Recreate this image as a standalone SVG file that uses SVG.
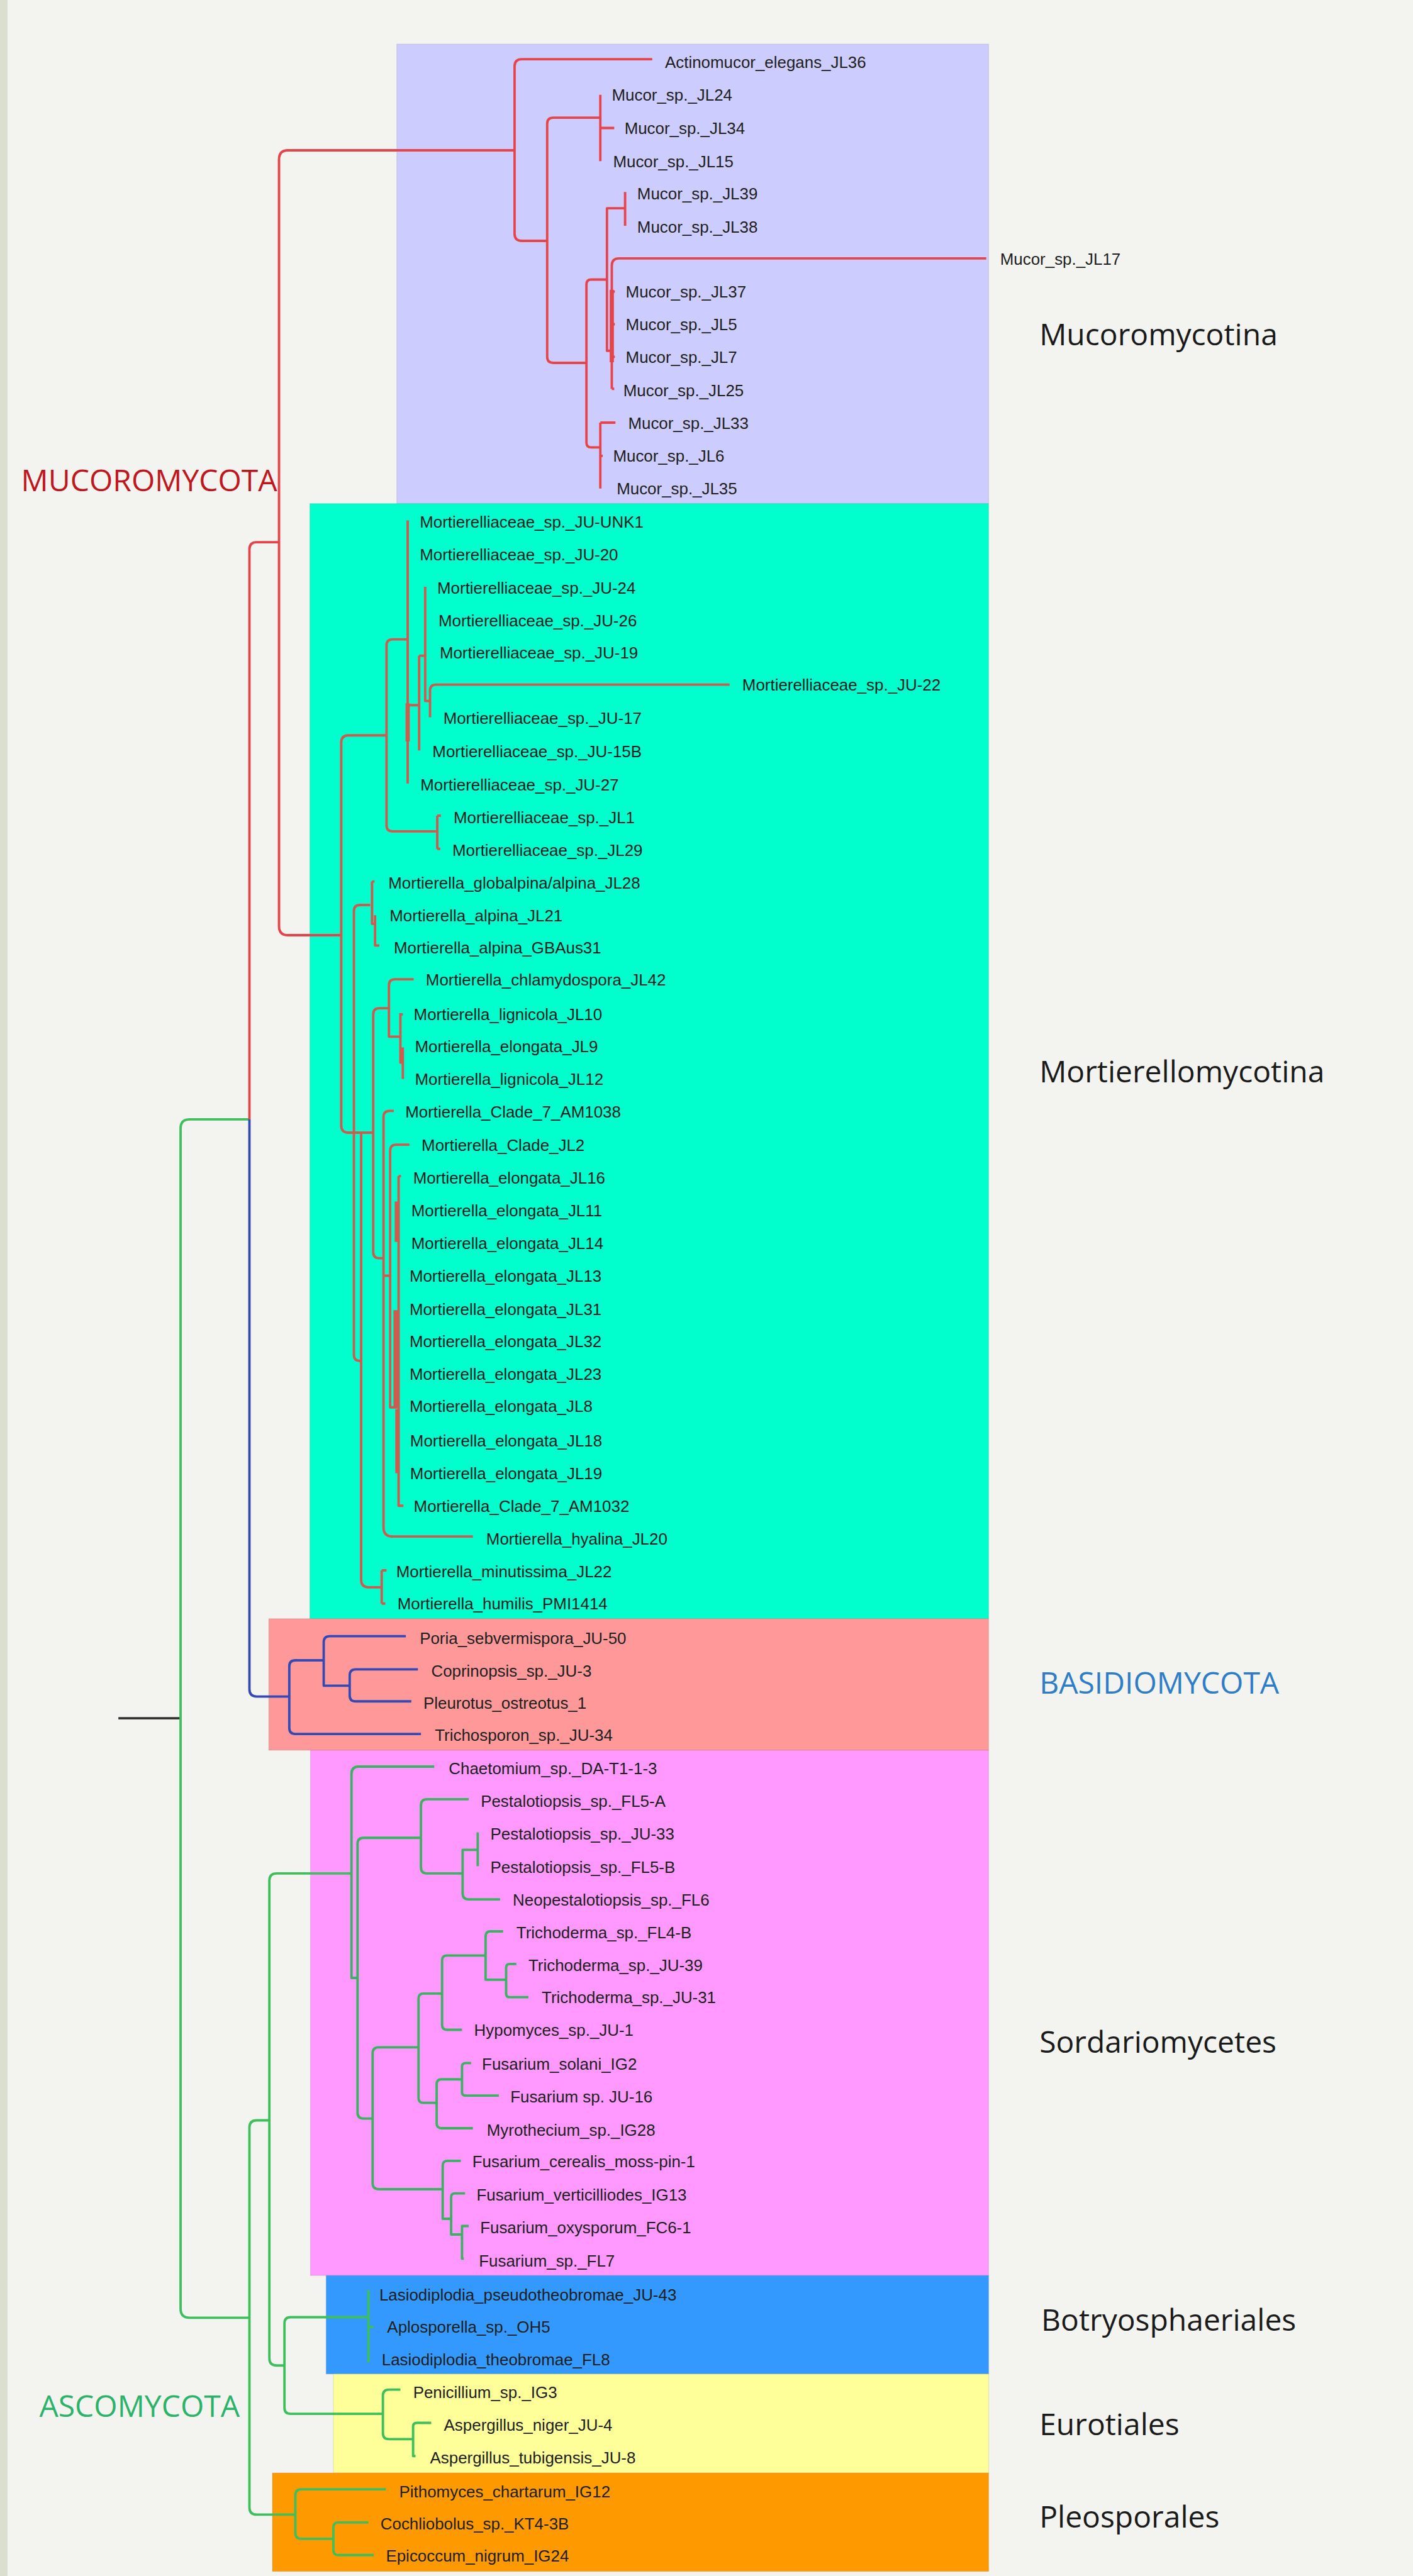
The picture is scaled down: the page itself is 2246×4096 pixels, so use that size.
<svg xmlns="http://www.w3.org/2000/svg" width="2246" height="4096" viewBox="0 0 2246 4096">
<style>
.leaf{font-family:"Liberation Sans",Arial,sans-serif;font-size:27px;fill:#1e1e1e}
.clade{font-family:"Open Sans","DejaVu Sans",sans-serif;font-size:50px;fill:#1a1a1a}
.box{stroke:#000;stroke-opacity:0.08;stroke-width:1.5}
path{fill:none;stroke-width:4;stroke-linejoin:round}
.r{stroke:#E5454A}.m{stroke:#CF5A4E}.b{stroke:#3549B5}.g{stroke:#3FBF5C}.s{stroke:#3DB062}.k{stroke:#333}
.thick{stroke-width:7}
</style>
<rect x="0" y="0" width="2246" height="4096" fill="#F3F4EF"/>
<rect x="0" y="0" width="12" height="4096" fill="#DADFD0"/>
<g transform="scale(0.96)">
<g id="boxes">
<rect id="box-mucoromycotina" class="box" x="657" y="73" width="980" height="761" fill="#CCCCFF"/>
<rect id="box-mortierellomycotina" class="box" x="513" y="834" width="1124" height="1847" fill="#00FFCC"/>
<rect id="box-basidiomycota" class="box" x="445" y="2681" width="1192" height="218" fill="#FF9999"/>
<rect id="box-sordariomycetes" class="box" x="514" y="2899" width="1123" height="870" fill="#FF99FF"/>
<rect id="box-botryosphaeriales" class="box" x="540" y="3769" width="1097" height="163" fill="#3399FF"/>
<rect id="box-eurotiales" class="box" x="552" y="3932" width="1085" height="164" fill="#FFFF99"/>
<rect id="box-pleosporales" class="box" x="451" y="4096" width="1186" height="163" fill="#FF9900"/>
</g>
<g id="connectors">
<path class="k" d="M196 2846 H299"/>
<path class="g" d="M413 1854 H314 Q299 1854 299 1869 V3824 Q299 3839 314 3839 H413"/>
<path class="r" d="M462 898 H425 Q413 898 413 910 V1854"/>
<path class="b" d="M413 1854 V2798 Q413 2810 425 2810 H479"/>
<path class="r" d="M852 249 H477 Q462 249 462 264 V1534 Q462 1549 477 1549 H565"/>
<path class="r" d="M1080 98 H864 Q852 98 852 110 V387 Q852 399 864 399 H906"/>
<path class="r" d="M994 195 H916 Q906 195 906 205 V591 Q906 601 916 601 H971"/>
<path class="r" d="M994 157 V267 M994 212 H1017"/>
<path class="r" d="M1005 463 H979 Q971 463 971 471 V733 Q971 741 979 741 H994"/>
<path class="r" d="M1035 345 H1005 V581 H1013"/>
<path class="r" d="M1035 318 V374"/>
<path class="r" d="M1013 644 V440 Q1013 428 1025 428 H1633 M1013 483 H1018 M1013 537 H1018 M1013 591 H1018 M1013 644 H1017"/>
<path class="r thick" d="M1013 480 V600"/>
<path class="r" d="M994 700 V809 M994 700 H1019 M994 755 H998"/>
<path class="m" d="M640 1218 H577 Q565 1218 565 1230 V1864 Q565 1876 577 1876 H618"/>
<path class="m" d="M675 1059 H650 Q640 1059 640 1069 V1367 Q640 1377 650 1377 H724"/>
<path class="m" d="M675 862 V1298 M675 1168 H694 M694 1086 V1243 M694 1086 H704 M704 972 V1161 H712 M712 1188 V1144 Q712 1134 722 1134 H1208"/>
<path class="m thick" d="M675 1165 V1228"/>
<path class="m" d="M724 1351 V1406 M724 1351 H730 M724 1406 H729"/>
<path class="m" d="M613 1499 H596 Q586 1499 586 1509 V2244 Q586 2254 596 2254 H598"/>
<path class="m" d="M616 1460 V1530 H621 M621 1516 V1566 H628 M616 1460 H620"/>
<path class="m" d="M598 1876 V2617 Q598 2629 610 2629 H632"/>
<path class="m" d="M632 2601 V2656 M632 2601 H640 M632 2656 H638"/>
<path class="m" d="M644 1670 H628 Q618 1670 618 1680 V2074 Q618 2084 628 2084 H635"/>
<path class="m" d="M685 1622 H654 Q644 1622 644 1632 V1717 H663"/>
<path class="m" d="M663 1678 V1760 H667 M667 1735 V1787 M663 1680 H667"/>
<path class="m" d="M652 1840 H645 Q635 1840 635 1850 V2530 Q635 2545 650 2545 H783 M635 2113 H646"/>
<path class="m" d="M678 1896 H656 Q646 1896 646 1906 V2331 H658"/>
<path class="m" d="M660 1948 V2494 H668 M660 1948 H664"/>
<path class="m thick" d="M657 1990 V2057 M655 2170 V2330 M658 2334 V2440"/>
<path class="b" d="M536 2750 H489 Q479 2750 479 2760 V2862 Q479 2872 489 2872 H697"/>
<path class="b" d="M672 2710 H546 Q536 2710 536 2720 V2792 H579"/>
<path class="b" d="M692 2765 H589 Q579 2765 579 2775 V2808 Q579 2818 589 2818 H681"/>
<path class="g" d="M446 3512 H425 Q413 3512 413 3524 V4153 Q413 4165 425 4165 H489"/>
<path class="g" d="M582 3103 H458 Q446 3103 446 3115 V3906 Q446 3918 458 3918 H471"/>
<path class="g" d="M610 3838 H481 Q471 3838 471 3848 V3988 Q471 3998 481 3998 H634"/>
<path class="g" d="M610 3793 V3913 M610 3854 H618"/>
<path class="g" d="M663 3958 H644 Q634 3958 634 3968 V4030 Q634 4040 644 4040 H684"/>
<path class="g" d="M714 4013 H690 Q684 4013 684 4019 V4068 H688"/>
<path class="g" d="M639 4123 H499 Q489 4123 489 4133 V4195 Q489 4205 499 4205 H552"/>
<path class="g" d="M610 4178 H560 Q552 4178 552 4186 V4224 Q552 4232 560 4232 H619"/>
<path class="s" d="M719 2926 H594 Q582 2926 582 2938 V3276 H592"/>
<path class="s" d="M697 3044 H602 Q592 3044 592 3054 V3499 Q592 3509 602 3509 H617"/>
<path class="s" d="M776 2980 H707 Q697 2980 697 2990 V3093 Q697 3103 707 3103 H766"/>
<path class="s" d="M791 3064 H766 V3136 Q766 3146 776 3146 H828"/>
<path class="s" d="M791 3035 V3091"/>
<path class="s" d="M693 3391 H627 Q617 3391 617 3401 V3616 Q617 3626 627 3626 H733"/>
<path class="s" d="M732 3302 H701 Q693 3302 693 3310 V3475 Q693 3483 701 3483 H723"/>
<path class="s" d="M804 3239 H740 Q732 3239 732 3247 V3354 Q732 3362 740 3362 H765"/>
<path class="s" d="M833 3199 H812 Q804 3199 804 3207 V3279 H838"/>
<path class="s" d="M855 3253 H844 Q838 3253 838 3259 V3302 Q838 3308 844 3308 H875"/>
<path class="s" d="M765 3444 H731 Q723 3444 723 3452 V3517 Q723 3525 731 3525 H783"/>
<path class="s" d="M780 3417 H771 Q765 3417 765 3423 V3465 Q765 3471 771 3471 H826"/>
<path class="s" d="M763 3579 H741 Q733 3579 733 3587 V3675 H747"/>
<path class="s" d="M770 3633 H753 Q747 3633 747 3639 V3701 H765"/>
<path class="s" d="M776 3687 H765 V3741 H768"/>
</g>
<g id="clade-mucoromycotina">
<text id="n-JL36" class="leaf" x="1101" y="113">Actinomucor_elegans_JL36</text>
<text id="n-JL24" class="leaf" x="1013" y="167">Mucor_sp._JL24</text>
<text id="n-JL34" class="leaf" x="1034" y="222">Mucor_sp._JL34</text>
<text id="n-JL15" class="leaf" x="1015" y="277">Mucor_sp._JL15</text>
<text id="n-JL39" class="leaf" x="1055" y="330">Mucor_sp._JL39</text>
<text id="n-JL38" class="leaf" x="1055" y="385">Mucor_sp._JL38</text>
<text id="n-JL17" class="leaf" x="1656" y="439">Mucor_sp._JL17</text>
<text id="n-JL37" class="leaf" x="1036" y="493">Mucor_sp._JL37</text>
<text id="n-JL5" class="leaf" x="1036" y="547">Mucor_sp._JL5</text>
<text id="n-JL7" class="leaf" x="1036" y="601">Mucor_sp._JL7</text>
<text id="n-JL25" class="leaf" x="1032" y="656">Mucor_sp._JL25</text>
<text id="n-JL33" class="leaf" x="1040" y="710">Mucor_sp._JL33</text>
<text id="n-JL6" class="leaf" x="1015" y="765">Mucor_sp._JL6</text>
<text id="n-JL35" class="leaf" x="1021" y="819">Mucor_sp._JL35</text>
</g>
<g id="clade-mortierellomycotina">
<text id="n-JU-UNK1" class="leaf" x="695" y="874">Mortierelliaceae_sp._JU-UNK1</text>
<text id="n-JU-20" class="leaf" x="695" y="928">Mortierelliaceae_sp._JU-20</text>
<text id="n-JU-24" class="leaf" x="724" y="983">Mortierelliaceae_sp._JU-24</text>
<text id="n-JU-26" class="leaf" x="726" y="1038">Mortierelliaceae_sp._JU-26</text>
<text id="n-JU-19" class="leaf" x="728" y="1091">Mortierelliaceae_sp._JU-19</text>
<text id="n-JU-22" class="leaf" x="1229" y="1144">Mortierelliaceae_sp._JU-22</text>
<text id="n-JU-17" class="leaf" x="734" y="1199">Mortierelliaceae_sp._JU-17</text>
<text id="n-JU-15B" class="leaf" x="716" y="1254">Mortierelliaceae_sp._JU-15B</text>
<text id="n-JU-27" class="leaf" x="696" y="1309">Mortierelliaceae_sp._JU-27</text>
<text id="n-JL1" class="leaf" x="751" y="1364">Mortierelliaceae_sp._JL1</text>
<text id="n-JL29" class="leaf" x="749" y="1418">Mortierelliaceae_sp._JL29</text>
<text id="n-JL28" class="leaf" x="643" y="1472">Mortierella_globalpina/alpina_JL28</text>
<text id="n-JL21" class="leaf" x="645" y="1526">Mortierella_alpina_JL21</text>
<text id="n-GBAus31" class="leaf" x="652" y="1579">Mortierella_alpina_GBAus31</text>
<text id="n-JL42" class="leaf" x="705" y="1632">Mortierella_chlamydospora_JL42</text>
<text id="n-JL10" class="leaf" x="685" y="1690">Mortierella_lignicola_JL10</text>
<text id="n-JL9" class="leaf" x="687" y="1743">Mortierella_elongata_JL9</text>
<text id="n-JL12" class="leaf" x="687" y="1797">Mortierella_lignicola_JL12</text>
<text id="n-AM1038" class="leaf" x="671" y="1851">Mortierella_Clade_7_AM1038</text>
<text id="n-JL2" class="leaf" x="698" y="1906">Mortierella_Clade_JL2</text>
<text id="n-JL16" class="leaf" x="684" y="1960">Mortierella_elongata_JL16</text>
<text id="n-JL11" class="leaf" x="681" y="2015">Mortierella_elongata_JL11</text>
<text id="n-JL14" class="leaf" x="681" y="2069">Mortierella_elongata_JL14</text>
<text id="n-JL13" class="leaf" x="678" y="2123">Mortierella_elongata_JL13</text>
<text id="n-JL31" class="leaf" x="678" y="2178">Mortierella_elongata_JL31</text>
<text id="n-JL32" class="leaf" x="678" y="2231">Mortierella_elongata_JL32</text>
<text id="n-JL23" class="leaf" x="678" y="2285">Mortierella_elongata_JL23</text>
<text id="n-JL8" class="leaf" x="678" y="2339">Mortierella_elongata_JL8</text>
<text id="n-JL18" class="leaf" x="679" y="2396">Mortierella_elongata_JL18</text>
<text id="n-JL19" class="leaf" x="679" y="2450">Mortierella_elongata_JL19</text>
<text id="n-AM1032" class="leaf" x="685" y="2504">Mortierella_Clade_7_AM1032</text>
<text id="n-JL20" class="leaf" x="805" y="2558">Mortierella_hyalina_JL20</text>
<text id="n-JL22" class="leaf" x="656" y="2612">Mortierella_minutissima_JL22</text>
<text id="n-PMI1414" class="leaf" x="658" y="2666">Mortierella_humilis_PMI1414</text>
</g>
<g id="clade-basidiomycota">
<text id="n-JU-50" class="leaf" x="695" y="2723">Poria_sebvermispora_JU-50</text>
<text id="n-JU-3" class="leaf" x="714" y="2777">Coprinopsis_sp._JU-3</text>
<text id="n-ostreotus" class="leaf" x="701" y="2830">Pleurotus_ostreotus_1</text>
<text id="n-JU-34" class="leaf" x="720" y="2883">Trichosporon_sp._JU-34</text>
</g>
<g id="clade-sordariomycetes">
<text id="n-DA-T1-1-3" class="leaf" x="743" y="2939">Chaetomium_sp._DA-T1-1-3</text>
<text id="n-FL5-A" class="leaf" x="796" y="2993">Pestalotiopsis_sp._FL5-A</text>
<text id="n-JU-33" class="leaf" x="812" y="3047">Pestalotiopsis_sp._JU-33</text>
<text id="n-FL5-B" class="leaf" x="812" y="3102">Pestalotiopsis_sp._FL5-B</text>
<text id="n-FL6" class="leaf" x="849" y="3156">Neopestalotiopsis_sp._FL6</text>
<text id="n-FL4-B" class="leaf" x="855" y="3210">Trichoderma_sp._FL4-B</text>
<text id="n-JU-39" class="leaf" x="875" y="3265">Trichoderma_sp._JU-39</text>
<text id="n-JU-31" class="leaf" x="897" y="3318">Trichoderma_sp._JU-31</text>
<text id="n-JU-1" class="leaf" x="785" y="3372">Hypomyces_sp._JU-1</text>
<text id="n-IG2" class="leaf" x="798" y="3428">Fusarium_solani_IG2</text>
<text id="n-JU-16" class="leaf" x="845" y="3482">Fusarium sp. JU-16</text>
<text id="n-IG28" class="leaf" x="806" y="3537">Myrothecium_sp._IG28</text>
<text id="n-moss-pin-1" class="leaf" x="782" y="3590">Fusarium_cerealis_moss-pin-1</text>
<text id="n-IG13" class="leaf" x="789" y="3645">Fusarium_verticilliodes_IG13</text>
<text id="n-FC6-1" class="leaf" x="795" y="3699">Fusarium_oxysporum_FC6-1</text>
<text id="n-FL7" class="leaf" x="793" y="3754">Fusarium_sp._FL7</text>
</g>
<g id="clade-botryosphaeriales">
<text id="n-JU-43" class="leaf" x="628" y="3810">Lasiodiplodia_pseudotheobromae_JU-43</text>
<text id="n-OH5" class="leaf" x="641" y="3864">Aplosporella_sp._OH5</text>
<text id="n-FL8" class="leaf" x="632" y="3918">Lasiodiplodia_theobromae_FL8</text>
</g>
<g id="clade-eurotiales">
<text id="n-IG3" class="leaf" x="684" y="3972">Penicillium_sp._IG3</text>
<text id="n-JU-4" class="leaf" x="735" y="4026">Aspergillus_niger_JU-4</text>
<text id="n-JU-8" class="leaf" x="712" y="4080">Aspergillus_tubigensis_JU-8</text>
</g>
<g id="clade-pleosporales">
<text id="n-IG12" class="leaf" x="661" y="4136">Pithomyces_chartarum_IG12</text>
<text id="n-KT4-3B" class="leaf" x="630" y="4190">Cochliobolus_sp._KT4-3B</text>
<text id="n-IG24" class="leaf" x="639" y="4243">Epicoccum_nigrum_IG24</text>
</g>
<g id="labels">
<text id="lab-mucoromycota" class="clade" x="35" y="814" style="fill:#C0161E">MUCOROMYCOTA</text>
<text id="lab-ascomycota" class="clade" x="65" y="4003" style="fill:#2BB36A">ASCOMYCOTA</text>
<text id="lab-basidiomycota" class="clade" x="1721" y="2805" style="fill:#2E7DC6">BASIDIOMYCOTA</text>
<text id="lab-mucoromycotina" class="clade" x="1721" y="572">Mucoromycotina</text>
<text id="lab-mortierellomycotina" class="clade" x="1721" y="1793">Mortierellomycotina</text>
<text id="lab-sordariomycetes" class="clade" x="1721" y="3400">Sordariomycetes</text>
<text id="lab-botryosphaeriales" class="clade" x="1724" y="3860">Botryosphaeriales</text>
<text id="lab-eurotiales" class="clade" x="1721" y="4033">Eurotiales</text>
<text id="lab-pleosporales" class="clade" x="1721" y="4186">Pleosporales</text>
</g>
</g>
</svg>
